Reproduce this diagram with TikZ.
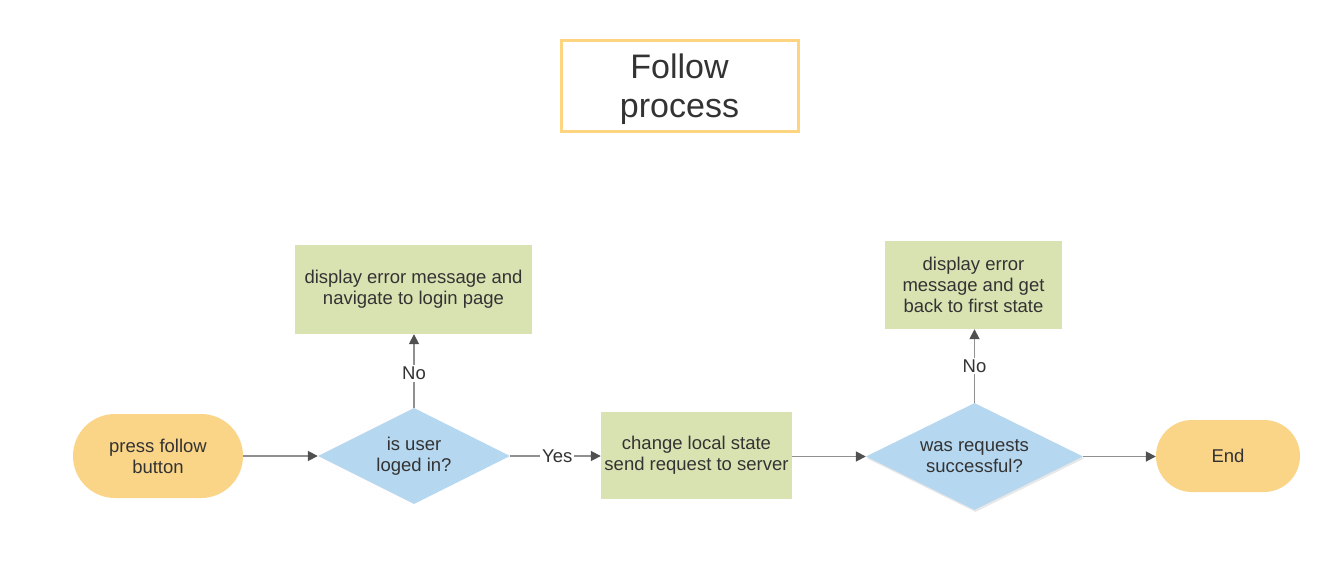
\documentclass[tikz,border=0pt]{standalone}
\usepackage{fontspec}
\setmainfont{Liberation Sans}
\usetikzlibrary{shapes.geometric,arrows.meta,shadows}
\definecolor{txt}{HTML}{333333}
\definecolor{termfill}{HTML}{FAD587}
\definecolor{titleborder}{HTML}{FDD480}
\definecolor{decfill}{HTML}{B5D7F0}
\definecolor{procfill}{HTML}{D9E3B2}
\definecolor{linegray}{HTML}{909090}
\definecolor{tipgray}{HTML}{505050}
\tikzset{
  base/.style={text=txt, align=center, inner sep=0pt, font=\fontsize{18.5}{21}\selectfont},
  term/.style={base, fill=termfill},
  proc/.style={base, rectangle, fill=procfill},
  dec/.style={base, diamond, aspect=2, fill=decfill},
  conn/.style={draw=linegray, line width=1.7pt, -{Triangle[length=10pt,width=10pt,color=tipgray,fill=tipgray]}},
  lbl/.style={text=txt, fill=white, inner sep=2pt, font=\fontsize{18.5}{21}\selectfont},
}
\begin{document}
\begin{tikzpicture}[x=1pt,y=-1pt]
\useasboundingbox[fill=white] (0,0) rectangle (1336,586);
\node[base, draw=titleborder, line width=3pt, fill=white, minimum width=237pt, minimum height=90pt, font=\fontsize{34}{39}\selectfont] (title) at (679.5,86) {};
\node[base, font=\fontsize{34}{39}\selectfont] (titletext) at (679.5,89) {Follow\\process};
\node[term, minimum width=170pt, minimum height=84pt, rounded corners=42pt] (start) at (158,456) {press follow\\button};
\node[dec, minimum width=192pt, minimum height=96pt] (d1) at (414,456) {is user\\loged in?};
\node[proc, minimum width=237pt, minimum height=89pt] (err1) at (413.5,289.5) {display error message and\\navigate to login page};
\node[proc, minimum width=191pt, minimum height=87pt] (send) at (696.5,455.5) {change local state\\send request to server};
\node[dec, minimum width=217pt, minimum height=107pt, drop shadow={opacity=0.18, shadow xshift=1pt, shadow yshift=-2pt}] (d2) at (974.5,456.5) {was requests\\successful?};
\node[proc, minimum width=177pt, minimum height=88pt] (err2) at (973.5,285) {display error\\message and get\\back to first state};
\node[term, minimum width=144pt, minimum height=72pt, rounded corners=36pt] (end) at (1228,456) {End};

\draw[conn] (start.east) -- (d1.west);
\draw[conn] (d1.east) -- node[lbl, pos=0.52] (yes) {Yes} (send.west |- d1.east);
\draw[conn] (d1.north) -- node[lbl, pos=0.47] (no1) {No} (d1.north |- err1.south);
\draw[conn] (send.east |- d2.west) -- (d2.west);
\draw[conn] (d2.east) -- (end.west |- d2.east);
\draw[conn] (d2.north) -- node[lbl, pos=0.5] (no2) {No} (d2.north |- err2.south);
\end{tikzpicture}
\end{document}
